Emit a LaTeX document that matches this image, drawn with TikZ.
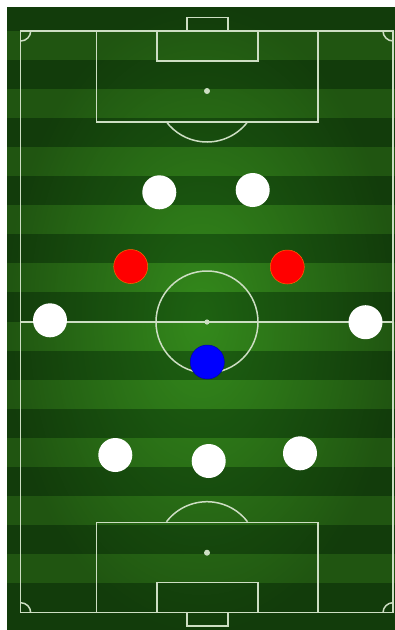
\documentclass[tikz,border=0pt]{standalone}
\usepackage{tikz}
\usetikzlibrary{fadings}
\definecolor{grassdark}{RGB}{30,98,18}
\definecolor{grasslight}{RGB}{52,138,28}
\definecolor{chalk}{RGB}{205,222,195}
\definecolor{redteam}{RGB}{255,0,0}
\definecolor{blueteam}{RGB}{0,0,255}
\tikzfading[name=vignette, inner color=transparent!100, outer color=transparent!62]
\tikzset{
  pline/.style={draw=chalk, line width=1.5pt},
  spot/.style={fill=chalk},
  player/.style={circle, minimum size=34pt, inner sep=0pt},
  plwhite/.style={player, fill=white},
  plred/.style={player, fill=redteam, draw=orange!80!red, line width=0.5pt},
  plblue/.style={player, fill=blueteam, draw=blue!70!black, line width=0.5pt},
}

\begin{document}
\begin{tikzpicture}[x=1pt,y=-1pt]
    \useasboundingbox (0,0) rectangle (395,630);
    % grass
    \fill[white] (0,0) rectangle (395,630);
    \fill[grassdark] (7,7) rectangle (395,630);
    \foreach \k in {0,...,9}
      \fill[grasslight] (7,{31+58.1*\k}) rectangle (395,{60.05+58.1*\k});
    \fill[black, path fading=vignette] (7,7) rectangle (395,630);

    % pitch markings
    \draw[pline] (20.7,31) rectangle (393,612.7);
    \draw[pline] (20.7,322) -- (393,322);
    \draw[pline] (207,322) circle[radius=51];
    \fill[spot] (207,322) circle[radius=2.6];
    % top half
    \draw[pline] (96.7,31) rectangle (318,122);
    \draw[pline] (157,31) rectangle (258,61);
    \draw[pline] (187,17.7) rectangle (228,31);
    \fill[spot] (207,91) circle[radius=3];
    \draw[pline] (207,91) ++(37.4:51) arc[start angle=37.4, end angle=142.6, radius=51];
    % bottom half
    \draw[pline] (96.7,612.7) rectangle (318,522.7);
    \draw[pline] (157,612.7) rectangle (258,582.7);
    \draw[pline] (187,626) rectangle (228,612.7);
    \fill[spot] (207,552.7) circle[radius=3];
    \draw[pline] (207,552.7) ++(217.4:51) arc[start angle=217.4, end angle=322.6, radius=51];
    % corners
    \draw[pline] (30.7,31) arc[start angle=0, end angle=90, radius=10];
    \draw[pline] (383,31) arc[start angle=180, end angle=90, radius=10];
    \draw[pline] (20.7,602.7) arc[start angle=270, end angle=360, radius=10];
    \draw[pline] (393,602.7) arc[start angle=270, end angle=180, radius=10];

    % players
    \node[plwhite] (fwdl) at (159.3,192.3) {};
    \node[plwhite] (fwdr) at (252.7,190) {};
    \node[plred] (midl) at (130.7,266.5) {};
    \node[plred] (midr) at (287.3,267) {};
    \node[plwhite] (wingl) at (50,320.3) {};
    \node[plwhite] (wingr) at (365.5,322.2) {};
    \node[plblue] (pivot) at (207.3,362) {};
    \node[plwhite] (defl) at (115.3,455) {};
    \node[plwhite] (defc) at (208.7,461) {};
    \node[plwhite] (defr) at (300,453.3) {};
\end{tikzpicture}
\end{document}
